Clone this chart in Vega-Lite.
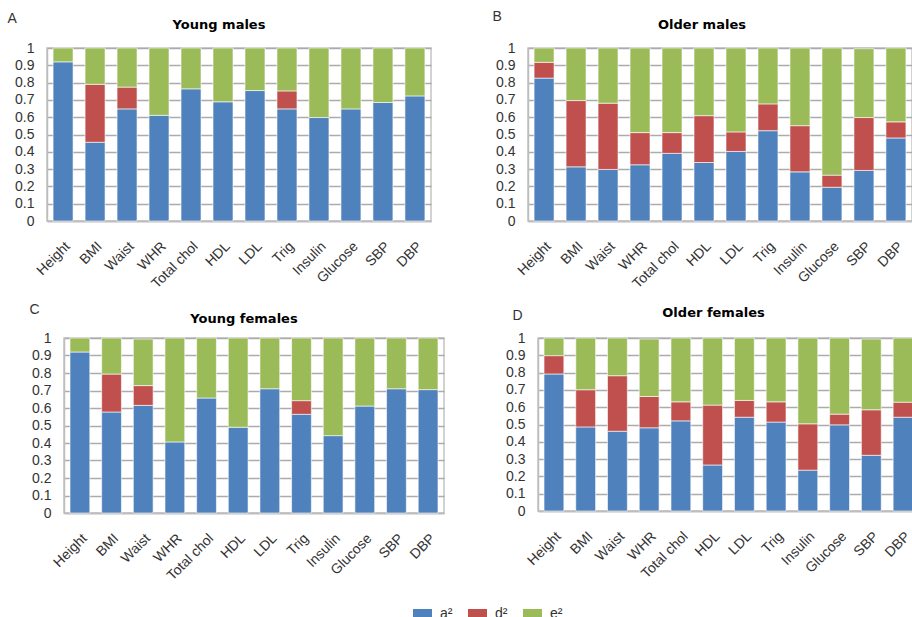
{
  "$schema": "https://vega.github.io/schema/vega-lite/v6.json",
  "padding": {"left": 0, "top": 8, "right": 0, "bottom": 0},
  "background": "#ffffff",
  "data": {"values": [
    {"panel":"A","trait":"Height","comp":"a²","value":0.92},
    {"panel":"A","trait":"Height","comp":"e²","value":0.08},
    {"panel":"A","trait":"BMI","comp":"a²","value":0.455},
    {"panel":"A","trait":"BMI","comp":"d²","value":0.335},
    {"panel":"A","trait":"BMI","comp":"e²","value":0.21},
    {"panel":"A","trait":"Waist","comp":"a²","value":0.648},
    {"panel":"A","trait":"Waist","comp":"d²","value":0.126},
    {"panel":"A","trait":"Waist","comp":"e²","value":0.226},
    {"panel":"A","trait":"WHR","comp":"a²","value":0.611},
    {"panel":"A","trait":"WHR","comp":"e²","value":0.389},
    {"panel":"A","trait":"Total chol","comp":"a²","value":0.764},
    {"panel":"A","trait":"Total chol","comp":"e²","value":0.236},
    {"panel":"A","trait":"HDL","comp":"a²","value":0.689},
    {"panel":"A","trait":"HDL","comp":"e²","value":0.311},
    {"panel":"A","trait":"LDL","comp":"a²","value":0.754},
    {"panel":"A","trait":"LDL","comp":"e²","value":0.246},
    {"panel":"A","trait":"Trig","comp":"a²","value":0.648},
    {"panel":"A","trait":"Trig","comp":"d²","value":0.104},
    {"panel":"A","trait":"Trig","comp":"e²","value":0.248},
    {"panel":"A","trait":"Insulin","comp":"a²","value":0.598},
    {"panel":"A","trait":"Insulin","comp":"e²","value":0.402},
    {"panel":"A","trait":"Glucose","comp":"a²","value":0.648},
    {"panel":"A","trait":"Glucose","comp":"e²","value":0.352},
    {"panel":"A","trait":"SBP","comp":"a²","value":0.685},
    {"panel":"A","trait":"SBP","comp":"e²","value":0.315},
    {"panel":"A","trait":"DBP","comp":"a²","value":0.723},
    {"panel":"A","trait":"DBP","comp":"e²","value":0.277},

    {"panel":"B","trait":"Height","comp":"a²","value":0.826},
    {"panel":"B","trait":"Height","comp":"d²","value":0.091},
    {"panel":"B","trait":"Height","comp":"e²","value":0.083},
    {"panel":"B","trait":"BMI","comp":"a²","value":0.313},
    {"panel":"B","trait":"BMI","comp":"d²","value":0.383},
    {"panel":"B","trait":"BMI","comp":"e²","value":0.304},
    {"panel":"B","trait":"Waist","comp":"a²","value":0.298},
    {"panel":"B","trait":"Waist","comp":"d²","value":0.383},
    {"panel":"B","trait":"Waist","comp":"e²","value":0.319},
    {"panel":"B","trait":"WHR","comp":"a²","value":0.325},
    {"panel":"B","trait":"WHR","comp":"d²","value":0.186},
    {"panel":"B","trait":"WHR","comp":"e²","value":0.489},
    {"panel":"B","trait":"Total chol","comp":"a²","value":0.391},
    {"panel":"B","trait":"Total chol","comp":"d²","value":0.12},
    {"panel":"B","trait":"Total chol","comp":"e²","value":0.489},
    {"panel":"B","trait":"HDL","comp":"a²","value":0.338},
    {"panel":"B","trait":"HDL","comp":"d²","value":0.271},
    {"panel":"B","trait":"HDL","comp":"e²","value":0.391},
    {"panel":"B","trait":"LDL","comp":"a²","value":0.402},
    {"panel":"B","trait":"LDL","comp":"d²","value":0.113},
    {"panel":"B","trait":"LDL","comp":"e²","value":0.485},
    {"panel":"B","trait":"Trig","comp":"a²","value":0.522},
    {"panel":"B","trait":"Trig","comp":"d²","value":0.155},
    {"panel":"B","trait":"Trig","comp":"e²","value":0.323},
    {"panel":"B","trait":"Insulin","comp":"a²","value":0.284},
    {"panel":"B","trait":"Insulin","comp":"d²","value":0.267},
    {"panel":"B","trait":"Insulin","comp":"e²","value":0.449},
    {"panel":"B","trait":"Glucose","comp":"a²","value":0.195},
    {"panel":"B","trait":"Glucose","comp":"d²","value":0.07},
    {"panel":"B","trait":"Glucose","comp":"e²","value":0.735},
    {"panel":"B","trait":"SBP","comp":"a²","value":0.292},
    {"panel":"B","trait":"SBP","comp":"d²","value":0.306},
    {"panel":"B","trait":"SBP","comp":"e²","value":0.398},
    {"panel":"B","trait":"DBP","comp":"a²","value":0.48},
    {"panel":"B","trait":"DBP","comp":"d²","value":0.093},
    {"panel":"B","trait":"DBP","comp":"e²","value":0.427},

    {"panel":"C","trait":"Height","comp":"a²","value":0.92},
    {"panel":"C","trait":"Height","comp":"e²","value":0.08},
    {"panel":"C","trait":"BMI","comp":"a²","value":0.577},
    {"panel":"C","trait":"BMI","comp":"d²","value":0.217},
    {"panel":"C","trait":"BMI","comp":"e²","value":0.206},
    {"panel":"C","trait":"Waist","comp":"a²","value":0.615},
    {"panel":"C","trait":"Waist","comp":"d²","value":0.113},
    {"panel":"C","trait":"Waist","comp":"e²","value":0.266},
    {"panel":"C","trait":"WHR","comp":"a²","value":0.406},
    {"panel":"C","trait":"WHR","comp":"e²","value":0.594},
    {"panel":"C","trait":"Total chol","comp":"a²","value":0.657},
    {"panel":"C","trait":"Total chol","comp":"e²","value":0.343},
    {"panel":"C","trait":"HDL","comp":"a²","value":0.49},
    {"panel":"C","trait":"HDL","comp":"e²","value":0.51},
    {"panel":"C","trait":"LDL","comp":"a²","value":0.71},
    {"panel":"C","trait":"LDL","comp":"e²","value":0.29},
    {"panel":"C","trait":"Trig","comp":"a²","value":0.564},
    {"panel":"C","trait":"Trig","comp":"d²","value":0.078},
    {"panel":"C","trait":"Trig","comp":"e²","value":0.358},
    {"panel":"C","trait":"Insulin","comp":"a²","value":0.442},
    {"panel":"C","trait":"Insulin","comp":"e²","value":0.558},
    {"panel":"C","trait":"Glucose","comp":"a²","value":0.611},
    {"panel":"C","trait":"Glucose","comp":"e²","value":0.389},
    {"panel":"C","trait":"SBP","comp":"a²","value":0.71},
    {"panel":"C","trait":"SBP","comp":"e²","value":0.29},
    {"panel":"C","trait":"DBP","comp":"a²","value":0.705},
    {"panel":"C","trait":"DBP","comp":"e²","value":0.295},

    {"panel":"D","trait":"Height","comp":"a²","value":0.792},
    {"panel":"D","trait":"Height","comp":"d²","value":0.106},
    {"panel":"D","trait":"Height","comp":"e²","value":0.102},
    {"panel":"D","trait":"BMI","comp":"a²","value":0.486},
    {"panel":"D","trait":"BMI","comp":"d²","value":0.215},
    {"panel":"D","trait":"BMI","comp":"e²","value":0.299},
    {"panel":"D","trait":"Waist","comp":"a²","value":0.461},
    {"panel":"D","trait":"Waist","comp":"d²","value":0.321},
    {"panel":"D","trait":"Waist","comp":"e²","value":0.218},
    {"panel":"D","trait":"WHR","comp":"a²","value":0.481},
    {"panel":"D","trait":"WHR","comp":"d²","value":0.181},
    {"panel":"D","trait":"WHR","comp":"e²","value":0.332},
    {"panel":"D","trait":"Total chol","comp":"a²","value":0.521},
    {"panel":"D","trait":"Total chol","comp":"d²","value":0.11},
    {"panel":"D","trait":"Total chol","comp":"e²","value":0.369},
    {"panel":"D","trait":"HDL","comp":"a²","value":0.266},
    {"panel":"D","trait":"HDL","comp":"d²","value":0.346},
    {"panel":"D","trait":"HDL","comp":"e²","value":0.388},
    {"panel":"D","trait":"LDL","comp":"a²","value":0.542},
    {"panel":"D","trait":"LDL","comp":"d²","value":0.097},
    {"panel":"D","trait":"LDL","comp":"e²","value":0.361},
    {"panel":"D","trait":"Trig","comp":"a²","value":0.514},
    {"panel":"D","trait":"Trig","comp":"d²","value":0.117},
    {"panel":"D","trait":"Trig","comp":"e²","value":0.369},
    {"panel":"D","trait":"Insulin","comp":"a²","value":0.236},
    {"panel":"D","trait":"Insulin","comp":"d²","value":0.268},
    {"panel":"D","trait":"Insulin","comp":"e²","value":0.496},
    {"panel":"D","trait":"Glucose","comp":"a²","value":0.498},
    {"panel":"D","trait":"Glucose","comp":"d²","value":0.062},
    {"panel":"D","trait":"Glucose","comp":"e²","value":0.44},
    {"panel":"D","trait":"SBP","comp":"a²","value":0.322},
    {"panel":"D","trait":"SBP","comp":"d²","value":0.263},
    {"panel":"D","trait":"SBP","comp":"e²","value":0.409},
    {"panel":"D","trait":"DBP","comp":"a²","value":0.542},
    {"panel":"D","trait":"DBP","comp":"d²","value":0.087},
    {"panel":"D","trait":"DBP","comp":"e²","value":0.371}
  ]},
  "config": {
    "view": {"stroke": "#c4c4c4", "strokeWidth": 1.5},
    "title": {"font": "DejaVu Sans", "fontSize": 13, "fontWeight": "bold", "color": "#000000", "anchor": "middle", "frame": "group"},
    "axis": {"labelFont": "Liberation Sans", "labelFontSize": 14, "labelColor": "#333333", "domainColor": "#bdbdbd", "domainWidth": 1.5, "titleFont": "Liberation Sans", "titleFontSize": 14, "titleFontWeight": "normal", "titleColor": "#333333"},
    "axisX": {"labelAngle": -45, "ticks": false, "labelPadding": 18, "grid": false},
    "axisY": {"ticks": false, "labelPadding": 13, "grid": true, "gridColor": "#ababab", "gridWidth": 1.5, "titleAngle": 0, "titleAlign": "left", "titleBaseline": "alphabetic"},
    "legend": {"orient": "none", "legendX": 413, "legendY": 556, "direction": "horizontal", "symbolType": "M-1,-0.5H1V0.5H-1Z", "symbolSize": 361, "symbolStrokeWidth": 0, "labelFont": "Liberation Sans", "labelFontSize": 14, "labelColor": "#333333", "labelOffset": 8, "columnPadding": 15, "padding": 0}
  },
  "spacing": 9,
  "vconcat": [
    {
      "spacing": 5,
      "hconcat": [
        {"width": 1, "height": 1, "data": {"values": []}, "mark": "point", "view": {"stroke": null}},
        {
          "spacing": 59,
          "hconcat": [
            {
              "width": 384, "height": 173,
              "title": {"text": "Young males", "dx": -20, "offset": -21},
              "transform": [{"filter": {"field": "panel", "equal": "A"}}],
              "mark": {"type": "bar", "stroke": "#ffffff", "strokeWidth": 0.6},
              "encoding": {
                "x": {"field": "trait", "type": "nominal", "sort": ["Height","BMI","Waist","WHR","Total chol","HDL","LDL","Trig","Insulin","Glucose","SBP","DBP"], "scale": {"paddingInner": 0.375, "paddingOuter": 0.19}, "axis": {"title": null}},
                "y": {"field": "value", "type": "quantitative", "stack": "zero", "scale": {"domain": [0, 1]}, "axis": {"title": "A", "titleX": -40, "titleY": -26, "values": [0,0.1,0.2,0.3,0.4,0.5,0.6,0.7,0.8,0.9,1], "format": ".1~f"}},
                "color": {"field": "comp", "type": "nominal", "scale": {"domain": ["a²","d²","e²"], "range": ["#4F81BD","#C0504D","#9BBB59"]}, "legend": {"title": null}},
                "order": {"field": "comp", "sort": "ascending"}
              }
            },
            {
              "width": 384, "height": 173,
              "title": {"text": "Older males", "dx": -18, "offset": -23},
              "transform": [{"filter": {"field": "panel", "equal": "B"}}],
              "mark": {"type": "bar", "stroke": "#ffffff", "strokeWidth": 0.6},
              "encoding": {
                "x": {"field": "trait", "type": "nominal", "sort": ["Height","BMI","Waist","WHR","Total chol","HDL","LDL","Trig","Insulin","Glucose","SBP","DBP"], "scale": {"paddingInner": 0.375, "paddingOuter": 0.19}, "axis": {"title": null}},
                "y": {"field": "value", "type": "quantitative", "stack": "zero", "scale": {"domain": [0, 1]}, "axis": {"title": "B", "titleX": -36, "titleY": -28, "values": [0,0.1,0.2,0.3,0.4,0.5,0.6,0.7,0.8,0.9,1], "format": ".1~f"}},
                "color": {"field": "comp", "type": "nominal", "scale": {"domain": ["a²","d²","e²"], "range": ["#4F81BD","#C0504D","#9BBB59"]}, "legend": {"title": null}},
                "order": {"field": "comp", "sort": "ascending"}
              }
            }
          ]
        }
      ]
    },
    {
      "spacing": 27,
      "hconcat": [
        {"width": 1, "height": 1, "data": {"values": []}, "mark": "point", "view": {"stroke": null}},
        {
          "spacing": 59,
          "hconcat": [
            {
              "width": 380, "height": 175,
              "title": {"text": "Young females", "dx": -10, "offset": -24},
              "transform": [{"filter": {"field": "panel", "equal": "C"}}],
              "mark": {"type": "bar", "stroke": "#ffffff", "strokeWidth": 0.6},
              "encoding": {
                "x": {"field": "trait", "type": "nominal", "sort": ["Height","BMI","Waist","WHR","Total chol","HDL","LDL","Trig","Insulin","Glucose","SBP","DBP"], "scale": {"paddingInner": 0.375, "paddingOuter": 0.19}, "axis": {"title": null}},
                "y": {"field": "value", "type": "quantitative", "stack": "zero", "scale": {"domain": [0, 1]}, "axis": {"title": "C", "titleX": -35, "titleY": -25, "values": [0,0.1,0.2,0.3,0.4,0.5,0.6,0.7,0.8,0.9,1], "format": ".1~f"}},
                "color": {"field": "comp", "type": "nominal", "scale": {"domain": ["a²","d²","e²"], "range": ["#4F81BD","#C0504D","#9BBB59"]}, "legend": {"title": null}},
                "order": {"field": "comp", "sort": "ascending"}
              }
            },
            {
              "width": 381, "height": 173,
              "title": {"text": "Older females", "dx": -15, "offset": -12},
              "transform": [{"filter": {"field": "panel", "equal": "D"}}],
              "mark": {"type": "bar", "stroke": "#ffffff", "strokeWidth": 0.6},
              "encoding": {
                "x": {"field": "trait", "type": "nominal", "sort": ["Height","BMI","Waist","WHR","Total chol","HDL","LDL","Trig","Insulin","Glucose","SBP","DBP"], "scale": {"paddingInner": 0.375, "paddingOuter": 0.19}, "axis": {"title": null}},
                "y": {"field": "value", "type": "quantitative", "stack": "zero", "scale": {"domain": [0, 1]}, "axis": {"title": "D", "titleX": -26, "titleY": -19, "values": [0,0.1,0.2,0.3,0.4,0.5,0.6,0.7,0.8,0.9,1], "format": ".1~f"}},
                "color": {"field": "comp", "type": "nominal", "scale": {"domain": ["a²","d²","e²"], "range": ["#4F81BD","#C0504D","#9BBB59"]}, "legend": {"title": null}},
                "order": {"field": "comp", "sort": "ascending"}
              }
            }
          ]
        }
      ]
    }
  ]
}
